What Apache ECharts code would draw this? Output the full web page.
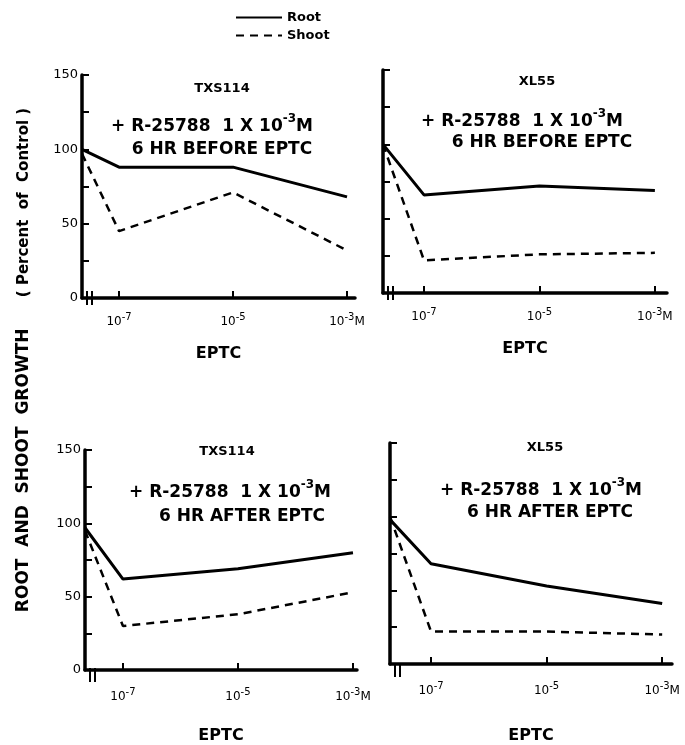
<!DOCTYPE html>
<html><head><meta charset="utf-8">
<script src="https://cdn.jsdelivr.net/npm/echarts@6/dist/echarts.min.js"></script>
<style>html,body{margin:0;padding:0;background:#fff}#c{width:685px;height:745px}</style>
</head><body><div id="c"></div>
<script>
// log10 dose positions of the EPTC treatments (control is drawn at the axis origin)
const doses = [-7, -5, -3];
const tickLabels = ['10⁻⁷', '10⁻⁵', '10⁻³M'];
const cultivars = ['TXS114', 'XL55', 'TXS114', 'XL55'];
const treatment = '+ R-25788  1 X 10⁻³M';
const timing = ['6 HR BEFORE EPTC', '6 HR BEFORE EPTC', '6 HR AFTER EPTC', '6 HR AFTER EPTC'];
// percent of control: [control, 1e-7, 1e-5, 1e-3]
const root1 = [100, 88, 88, 68];
const shoot1 = [97, 45, 71, 32];
const root2 = [100, 66, 72, 69];
const shoot2 = [100, 22, 26, 27];
const root3 = [97, 62, 69, 80];
const shoot3 = [95, 30, 38, 53];
const root4 = [98, 68, 53, 41];
const shoot4 = [100, 22, 22, 20];
const yTicks = [0, 50, 100, 150];

const roots = [root1, root2, root3, root4];
const shoots = [shoot1, shoot2, shoot3, shoot4];

// convert unicode superscripts into rich-text tokens
const SUP = {'⁻': '-', '⁰': '0', '¹': '1', '²': '2', '³': '3', '⁴': '4', '⁵': '5', '⁶': '6', '⁷': '7', '⁸': '8', '⁹': '9'};
function richify(s) {
  let out = '', mode = null, buf = '';
  for (const ch of s) {
    const m = SUP[ch] !== undefined ? 's' : 'n';
    const c = SUP[ch] !== undefined ? SUP[ch] : ch;
    if (m !== mode && buf) { out += '{' + mode + '|' + buf + '}'; buf = ''; }
    mode = m; buf += c;
  }
  if (buf) out += '{' + mode + '|' + buf + '}';
  return out;
}

const grids = [
  {left: 82, top: 75, width: 273, height: 223, min: -7.65, max: -2.86, ylab: true,
   cv: [222, 89], t1: [212, 126], t2: [222, 150], nameGap: 48},
  {left: 383, top: 70, width: 284, height: 223, min: -7.71, max: -2.79, ylab: false,
   cv: [537, 82], t1: [522, 121], t2: [542, 143], nameGap: 48},
  {left: 85, top: 450, width: 272, height: 225, min: -7.66, max: -2.93, ylab: true,
   cv: [227, 452], t1: [230, 492], t2: [242, 517], nameGap: 58},
  {left: 390, top: 443, width: 282, height: 227, min: -7.71, max: -2.83, ylab: false,
   cv: [545, 448], t1: [541, 490], t2: [550, 513], nameGap: 64}
];
const FONT = 'DejaVu Sans';
const chart = echarts.init(document.getElementById('c'));
const xAxis = [], yAxis = [], series = [], graphic = [];
const tickRich = {
  n: {fontFamily: FONT, fontSize: 12, color: '#000', lineHeight: 16, verticalAlign: 'bottom'},
  s: {fontFamily: FONT, fontSize: 10, color: '#000', lineHeight: 16, verticalAlign: 'top'}
};
const titleRich = {
  n: {font: 'bold 17px ' + FONT, fill: '#000', lineHeight: 22, verticalAlign: 'bottom'},
  s: {font: 'bold 12px ' + FONT, fill: '#000', lineHeight: 22, verticalAlign: 'top'}
};
grids.forEach((g, i) => {
  xAxis.push({
    type: 'value', gridIndex: i, min: g.min, max: g.max,
    axisLine: {lineStyle: {color: '#000', width: 3.5}},
    axisTick: {inside: true, length: 7, lineStyle: {color: '#000', width: 2}, customValues: doses},
    axisLabel: {customValues: doses, margin: i < 2 ? 14 : 17, color: '#000', fontFamily: FONT, fontSize: 12,
      formatter: v => richify(tickLabels[doses.indexOf(v)]), rich: tickRich},
    splitLine: {show: false},
    name: 'EPTC', nameLocation: 'middle', nameGap: g.nameGap,
    nameTextStyle: {color: '#000', fontFamily: FONT, fontWeight: 'bold', fontSize: 16}
  });
  yAxis.push({
    type: 'value', gridIndex: i, min: 0, max: 150, interval: 25,
    axisLine: {lineStyle: {color: '#000', width: 3.5}},
    axisTick: {inside: true, length: 7, lineStyle: {color: '#000', width: 2}},
    axisLabel: {show: g.ylab, margin: 4, color: '#000', fontFamily: FONT, fontSize: 13,
      formatter: v => yTicks.indexOf(v) >= 0 ? String(v) : ''},
    splitLine: {show: false}
  });
  const xs = [g.min].concat(doses);
  series.push({
    name: 'Root', type: 'line', xAxisIndex: i, yAxisIndex: i, symbol: 'none',
    lineStyle: {color: '#000', width: 3}, color: '#000',
    data: roots[i].map((v, k) => [xs[k], v])
  });
  series.push({
    name: 'Shoot', type: 'line', xAxisIndex: i, yAxisIndex: i, symbol: 'none',
    lineStyle: {color: '#000', width: 2.5, type: [8, 6]}, color: '#000',
    data: shoots[i].map((v, k) => [xs[k], v])
  });
  graphic.push({type: 'text', x: g.cv[0], y: g.cv[1],
    style: {text: cultivars[i], font: 'bold 13px ' + FONT, fill: '#000', align: 'center', verticalAlign: 'middle'}});
  graphic.push({type: 'text', x: g.t1[0], y: g.t1[1] - 2,
    style: {text: richify(treatment), rich: titleRich, font: 'bold 17px ' + FONT, fill: '#000', align: 'center', verticalAlign: 'middle'}});
  graphic.push({type: 'text', x: g.t2[0], y: g.t2[1],
    style: {text: timing[i], font: 'bold 17px ' + FONT, fill: '#000', align: 'center', verticalAlign: 'middle'}});
  const by = g.top + g.height;
  [5, 10].forEach(dx => graphic.push({type: 'line',
    shape: {x1: g.left + dx, y1: by - 7, x2: g.left + dx, y2: by + 7},
    style: {stroke: '#000', lineWidth: 2}}));
});
graphic.push({type: 'text', x: 24, y: 360, rotation: Math.PI / 2,
  style: {text: '{a|ROOT  AND  SHOOT  GROWTH}{b|      ( Percent  of  Control )}',
    rich: {a: {font: 'bold 17px ' + FONT, fill: '#000'}, b: {font: 'bold 15px ' + FONT, fill: '#000'}},
    font: 'bold 17px ' + FONT, fill: '#000', align: 'center', verticalAlign: 'middle'}});

chart.setOption({
  animation: false,
  backgroundColor: '#fff',
  grid: grids.map(g => ({left: g.left, top: g.top, width: g.width, height: g.height})),
  xAxis, yAxis, series, graphic,
  legend: {
    data: ['Root', 'Shoot'], orient: 'vertical', left: 230, top: 6, itemWidth: 46, itemHeight: 14,
    itemGap: 5, itemStyle: {opacity: 0},
    textStyle: {color: '#000', fontFamily: FONT, fontWeight: 'bold', fontSize: 13}
  }
});
</script></body></html>
